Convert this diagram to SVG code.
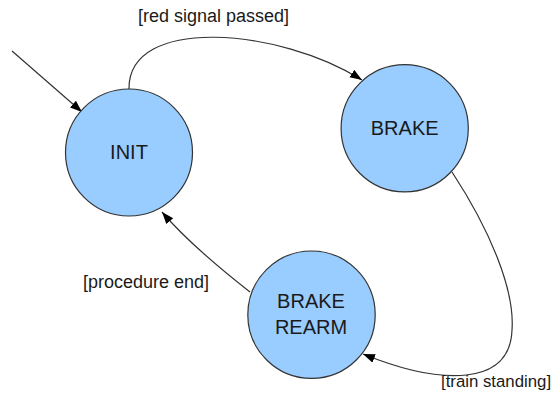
<svg xmlns="http://www.w3.org/2000/svg" width="553" height="397" viewBox="0 0 553 397">
  <style>
    .state { fill: #99ccff; stroke: #333333; stroke-width: 1.2; }
    .name { font-family: "Liberation Sans", Arial, sans-serif; font-size: 20px; fill: #1a1a1a; text-anchor: middle; }
    .guard { font-family: "Liberation Sans", Arial, sans-serif; font-size: 18px; fill: #1a1a1a; }
    .edge { fill: none; stroke: #333333; stroke-width: 1.2; marker-end: url(#arrow); }
  </style>
  <defs>
    <marker id="arrow" markerUnits="userSpaceOnUse" markerWidth="13" markerHeight="10" refX="12" refY="4.5" orient="auto">
      <path d="M0,0 L12,4.5 L0,9 z" fill="#000000"/>
    </marker>
  </defs>
  <rect width="553" height="397" fill="#ffffff"/>

  <!-- transitions -->
  <g id="connectors">
    <path id="start-init" class="edge" d="M12,51 L82,112"/>
    <path id="init-brake" class="edge" d="M129,89 C128,15 280,28 362,80"/>
    <path id="brake-rearm" class="edge" d="M452,172 C490,230 515,290 512,330 C510,386 442,386 363,354"/>
    <path id="rearm-init" class="edge" d="M250,292 Q190,245 162,212"/>
  </g>

  <!-- guard labels -->
  <g id="labels">
    <text class="guard" x="138" y="22">[red signal passed]</text>
    <text class="guard" x="83" y="288">[procedure end]</text>
    <text class="guard" x="441" y="387" style="font-size:16.8px">[train standing]</text>
  </g>

  <!-- states -->
  <g id="init">
    <circle class="state" cx="129" cy="152.5" r="63.5"/>
    <text class="name" x="129" y="159">INIT</text>
  </g>
  <g id="brake">
    <circle class="state" cx="404.7" cy="128.3" r="63.6"/>
    <text class="name" x="404.7" y="134.5">BRAKE</text>
  </g>
  <g id="brake-rearm-state">
    <circle class="state" cx="311.5" cy="314.7" r="63.7"/>
    <text class="name" x="311" y="308">BRAKE</text>
    <text class="name" x="311" y="333.5">REARM</text>
  </g>
</svg>
